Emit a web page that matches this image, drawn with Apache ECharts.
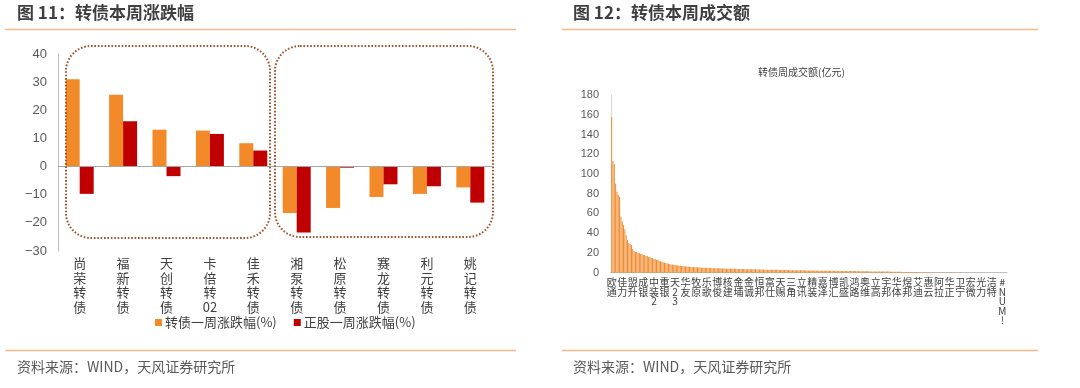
<!DOCTYPE html>
<html><head><meta charset="utf-8">
<script src="https://cdn.jsdelivr.net/npm/echarts@6/dist/echarts.min.js"></script>
<style>html,body{margin:0;padding:0;background:#fff}#c{width:1080px;height:388px}</style>
</head><body><div id="c"></div>
<script>
// ---- Chart 11 data ----
const bondNames = ['尚荣转债','福新转债','天创转债','卡倍转02','佳禾转债','湘泵转债','松原转债','赛龙转债','利元转债','姚记转债'];
const bondChange = [31.0, 25.5, 13.1, 12.8, 8.3, -16.5, -14.7, -10.8, -9.7, -7.4];
const stockChange = [-9.7, 16.1, -3.4, 11.6, 5.7, -23.4, -0.4, -6.3, -7.0, -12.8];
const seriesNames = ['转债一周涨跌幅(%)', '正股一周涨跌幅(%)'];

// ---- Chart 12 data ----
const volumeLabels = ['欧通','佳力','盟升','成银','中装2','重银','天23','华友','牧原','乐歌','博俊','核建','金埔','金诚','恒邦','富仕','天赐','三角','立讯','精装','嘉泽','博汇','凯盛','鸿路','奥维','立高','宇邦','华体','煜邦','艾迪','惠云','阿拉','华正','卫宁','宏微','光力','洁特','#NUM!'];
const volumeValues = [
158,113,110,90,82,79,77,57,52,48,44,38,33,30,29,28,24,22,21,21,
20,20,19,19,18,18,17,17,16,16,15,15,14,14,13,13,12,11.5,11,10.5,
10,9.8,9.5,9,8.7,8.4,8.2,8,7.8,7.6,7.4,7.2,7,6.9,6.7,6.5,6.4,6.2,6.1,6,
5.9,5.8,5.7,5.6,5.5,5.4,5.3,5.2,5.1,5,5,4.9,4.9,4.8,4.8,4.7,4.7,4.6,4.6,4.5,
4.5,4.4,4.4,4.3,4.3,4.2,4.2,4.1,4.1,4,4,4,3.9,3.9,3.9,3.8,3.8,3.8,3.7,3.7,
3.7,3.6,3.6,3.6,3.5,3.5,3.5,3.4,3.4,3.4,3.3,3.3,3.3,3.2,3.2,3.2,3.1,3.1,3.1,3,
3,3,3,2.9,2.9,2.9,2.9,2.8,2.8,2.8,2.8,2.7,2.7,2.7,2.7,2.6,2.6,2.6,2.6,2.5,
2.5,2.5,2.5,2.4,2.4,2.4,2.4,2.3,2.3,2.3,2.3,2.3,2.2,2.2,2.2,2.2,2.1,2.1,2.1,2.1,
2.1,2,2,2,2,2,1.9,1.9,1.9,1.9,1.9,1.8,1.8,1.8,1.8,1.8,1.7,1.7,1.7,1.7,
1.7,1.6,1.6,1.6,1.6,1.6,1.5,1.5,1.5,1.5,1.5,1.4,1.4,1.4,1.4,1.4,1.3,1.3,1.3,1.3,
1.3,1.2,1.2,1.2,1.2,1.2,1.1,1.1,1.1,1.1,1.1,1,1,1,1,1,0.9,0.9,0.9,0.9,
0.9,0.8,0.8,0.8,0.8,0.7,0.7,0.7,0.7,0.6,0.6,0.6,0.6,0.5,0.5,0.5,0.5,0.4,0.4,0.4,
0.4,0.3,0.3,0.3,0.3,0.2,0.2,0.2,0.2,0.2,0.2,0.2,0.1,0.1,0.1,0.1,0.1,0.1,0.1,0.1,
0.1,0.1,0.1,0.1,0.1,0.1,0.05,0.05,0.05,0.05,0.05,0.05,0.05,0.05,0.05,0.05,0.05,0.05,0.05,0.05,
0.05,0.05,0.05,0.05,0.05,0.05,0.05,0.05,0.05,0.05,0.05,0.05,0.05,0,0,0,0,0,0,0
];
const labelStep = 8;

const CJK = '"Noto Sans CJK SC", "Liberation Sans", sans-serif';
const NUM = '"Liberation Sans", "Noto Sans CJK SC", sans-serif';
const vert = s => s.split('').join('\n');
const volumeCats = volumeValues.map((v, i) => (i % labelStep === 0 ? (volumeLabels[i / labelStep] || '') : ''));

const chart = echarts.init(document.getElementById('c'), null, {renderer: 'canvas'});
const orangeLine = '#f4b98a';
chart.setOption({
  animation: false,
  backgroundColor: '#fff',
  textStyle: {fontFamily: CJK},
  grid: [
    {left: 58, top: 54, width: 434, height: 197},
    {left: 611, top: 95, width: 396, height: 177.7}
  ],
  legend: {
    data: seriesNames, left: 150, top: 311, itemWidth: 7, itemHeight: 7, itemGap: 17, icon: 'rect',
    textStyle: {fontSize: 13, color: '#404040', fontFamily: CJK, padding: [0,0,0,-2]}
  },
  xAxis: [
    {type: 'category', gridIndex: 0, data: bondNames,
     axisLine: {show: false}, axisTick: {show: false},
     axisLabel: {interval: 0, fontSize: 13, lineHeight: 14.5, color: '#404040', margin: 5, fontFamily: CJK,
       formatter: v => v === '卡倍转02' ? '卡\n倍\n转\n02' : vert(v)}},
    {type: 'category', gridIndex: 1, data: volumeCats,
     axisLine: {lineStyle: {color: '#bfbfbf', width: 1}}, axisTick: {show: false},
     axisLabel: {interval: labelStep - 1, fontSize: 10, lineHeight: 9.5, color: '#404040', margin: 5, fontFamily: CJK,
       formatter: v => v === '中装2' ? '中\n装\n2' : vert(v)}}
  ],
  yAxis: [
    {type: 'value', gridIndex: 0, min: -30, max: 40, interval: 10,
     axisLine: {show: true, lineStyle: {color: '#bfbfbf'}}, axisTick: {show: false}, splitLine: {show: false},
     axisLabel: {fontSize: 13, color: '#595959', margin: 11, fontFamily: NUM,
       formatter: v => (v < 0 ? '\u2212' + Math.abs(v) : String(v))}},
    {type: 'value', gridIndex: 1, min: 0, max: 180, interval: 20,
     axisLine: {show: true, lineStyle: {color: '#d9d9d9'}}, axisTick: {show: false}, splitLine: {show: false},
     axisLabel: {fontSize: 11, color: '#595959', margin: 12, fontFamily: NUM}}
  ],
  series: [
    {name: seriesNames[0], type: 'bar', xAxisIndex: 0, yAxisIndex: 0, data: bondChange,
     barWidth: 14, barGap: '0%', itemStyle: {color: '#f28a2a'},
     markLine: {silent: true, symbol: 'none', label: {show: false}, lineStyle: {color: '#a6a6a6', type: 'solid', width: 1},
       data: [{yAxis: 0}]}},
    {name: seriesNames[1], type: 'bar', xAxisIndex: 0, yAxisIndex: 0, data: stockChange,
     barWidth: 14, barGap: '0%', itemStyle: {color: '#c00000'}},
    {name: '转债周成交额', type: 'bar', xAxisIndex: 1, yAxisIndex: 1, data: volumeValues,
     barCategoryGap: '22%', itemStyle: {color: '#f08a2e'}}
  ],
  graphic: [
    {type: 'text', left: 17, top: 4, style: {text: '图 11：转债本周涨跌幅', font: 'bold 17px ' + CJK, fill: '#3f3f3f'}},
    {type: 'text', left: 573, top: 4, style: {text: '图 12：转债本周成交额', font: 'bold 17px ' + CJK, fill: '#3f3f3f'}},
    {type: 'line', shape: {x1: 5, y1: 29.5, x2: 516, y2: 29.5}, style: {stroke: orangeLine, lineWidth: 1.5}},
    {type: 'line', shape: {x1: 562, y1: 29.5, x2: 1038, y2: 29.5}, style: {stroke: orangeLine, lineWidth: 1.5}},
    {type: 'line', shape: {x1: 5, y1: 350.5, x2: 516, y2: 350.5}, style: {stroke: orangeLine, lineWidth: 1.5}},
    {type: 'line', shape: {x1: 562, y1: 350.5, x2: 1038, y2: 350.5}, style: {stroke: orangeLine, lineWidth: 1.5}},
    {type: 'text', left: 17, top: 360, style: {text: '资料来源：WIND，天风证券研究所', font: '14px ' + CJK, fill: '#595959'}},
    {type: 'text', left: 573, top: 360, style: {text: '资料来源：WIND，天风证券研究所', font: '14px ' + CJK, fill: '#595959'}},
    {type: 'text', left: 758, top: 67, style: {text: '转债周成交额(亿元)', font: '10px ' + CJK, fill: '#404040'}},
    {type: 'rect', shape: {x: 66, y: 46, width: 204, height: 192, r: 25}, z: 10,
     style: {fill: 'none', stroke: '#a0522d', lineWidth: 2, lineDash: [1.6, 1.8]}},
    {type: 'rect', shape: {x: 275, y: 46, width: 218, height: 191, r: 25}, z: 10,
     style: {fill: 'none', stroke: '#a0522d', lineWidth: 2, lineDash: [1.6, 1.8]}}
  ]
});
</script></body></html>
